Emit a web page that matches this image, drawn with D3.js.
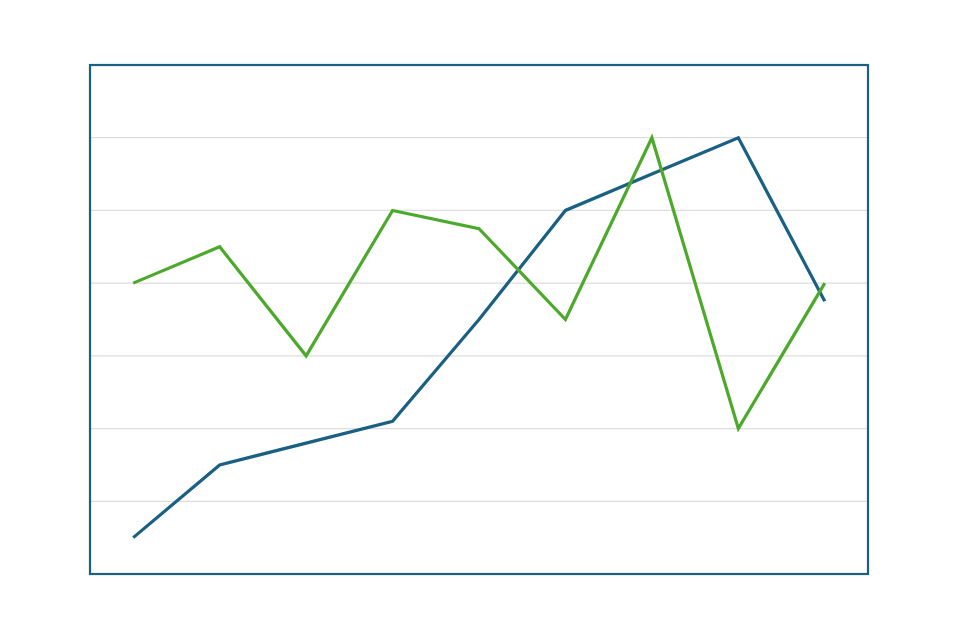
<!DOCTYPE html>
<html>
<head>
<meta charset="utf-8">
<script src="https://cdn.jsdelivr.net/npm/d3@7"></script>
<style>
  html, body { margin: 0; padding: 0; background: #fff; }
  svg { display: block; }
</style>
</head>
<body>
<div id="chart"></div>
<script>
// Données du graphique
const categories = ["1", "2", "3", "4", "5", "6", "7", "8", "9"];
const blueValues = [0.5, 1.5, 1.8, 2.1, 3.5, 5, 5.5, 6, 3.75];
const greenValues = [4, 4.5, 3, 5, 4.75, 3.5, 6, 2, 4];
const gridTicks = [1, 2, 3, 4, 5, 6];

const W = 960, H = 640;
const margin = { top: 65, right: 92, bottom: 66, left: 90 };
const width = W - margin.left - margin.right;
const height = H - margin.top - margin.bottom;

const svg = d3.select("#chart")
  .append("svg")
  .attr("width", W)
  .attr("height", H);

const g = svg.append("g")
  .attr("transform", `translate(${margin.left},${margin.top})`);

// Échelles
const x = d3.scalePoint()
  .domain(categories)
  .range([0, width])
  .padding(0.5);

const y = d3.scaleLinear()
  .domain([0, 7])
  .range([height, 0]);

// Grille horizontale
g.selectAll(".grid")
  .data(gridTicks)
  .enter()
  .append("line")
  .attr("class", "grid")
  .attr("x1", 0)
  .attr("x2", width)
  .attr("y1", d => y(d))
  .attr("y2", d => y(d))
  .attr("stroke", "#dddddd")
  .attr("stroke-width", 1.2);

// Lignes
const line = d3.line()
  .x((d, i) => x(categories[i]))
  .y(d => y(d));

g.append("path")
  .datum(blueValues)
  .attr("fill", "none")
  .attr("stroke", "#1a6082")
  .attr("stroke-width", 3.2)
  .attr("d", line);

g.append("path")
  .datum(greenValues)
  .attr("fill", "none")
  .attr("stroke", "#4ca92c")
  .attr("stroke-width", 3.2)
  .attr("d", line);

// Cadre
g.append("rect")
  .attr("x", 0)
  .attr("y", 0)
  .attr("width", width)
  .attr("height", height)
  .attr("fill", "none")
  .attr("stroke", "#1a6082")
  .attr("stroke-width", 2.2);
</script>
</body>
</html>
